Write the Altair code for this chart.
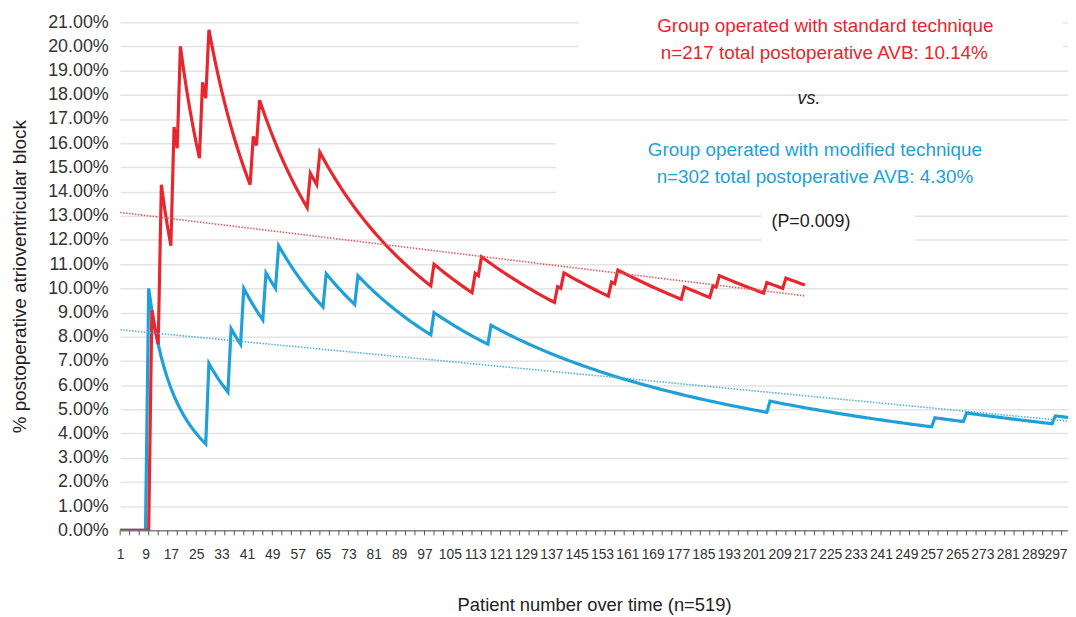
import altair as alt
import pandas as pd

FONT = "Liberation Sans"
RED = "#e8262d"
BLUE = "#1fa0d8"
RED_TREND = "#e05a5e"
BLUE_TREND = "#4fb2dc"

# ---- data ----
red_n = 217
blue_n = 302
# patient numbers at which a postoperative AVB occurred (each step up of the curve)
red_events = [11, 14, 18, 20, 27, 29, 43, 45, 61, 64, 100, 113, 115, 139, 141,
              156, 158, 179, 188, 190, 205, 211]
blue_events = [10, 29, 36, 40, 47, 51, 66, 76, 100, 118, 206, 258, 268, 296]

red_trend_patient = [1, 217]
red_trend_pct = [13.14, 9.69]
blue_trend_patient = [1, 302]
blue_trend_pct = [8.29, 4.49]

x_label_values = list(range(1, 298, 8))
x_tick_values = list(range(1, 301, 3))
y_values = list(range(0, 22))


def cumulative(n, events):
    ev = set(events)
    rows = []
    k = 0
    for p in range(1, n + 1):
        if p in ev:
            k += 1
        rows.append({"patient": p, "pct": 100.0 * k / p})
    return pd.DataFrame(rows)


red_df = cumulative(red_n, red_events)
blue_df = cumulative(blue_n, blue_events)
red_tr = pd.DataFrame({"patient": red_trend_patient, "pct": red_trend_pct})
blue_tr = pd.DataFrame({"patient": blue_trend_patient, "pct": blue_trend_pct})
ticks_df = pd.DataFrame({"patient": x_tick_values})
one = pd.DataFrame({"a": [0]})

x_scale = alt.Scale(domain=[1, 300], nice=False, zero=False)
y_scale = alt.Scale(domain=[0, 21], nice=False, zero=True)

x_axis = alt.Axis(
    values=x_label_values, title="Patient number over time (n=519)",
    grid=False, ticks=False, domain=True, domainColor="#555", domainWidth=1,
    labelFontSize=14, labelColor="#333", labelPadding=17, labelFont=FONT,
    labelOverlap=False, labelFlush=False,
    labelOffset={"condition": {"test": "datum.value === 297", "value": -3}, "value": 0},
    titleFont=FONT, titleFontSize=18.5, titleFontWeight="normal", titleColor="#222",
    titleX=477.5, titleY=75, titleBaseline="middle", titleAlign="center",
)
y_axis = alt.Axis(
    values=y_values, labelExpr="format(datum.value, '.2f') + '%'",
    grid=True, gridColor="#e3e3e3", gridWidth=1.5, ticks=False, domain=False,
    labelFontSize=18, labelColor="#333", labelPadding=12, labelFont=FONT,
    title="% postoperative atrioventricular block",
    titleFont=FONT, titleFontSize=19, titleFontWeight="normal", titleColor="#222",
    titleX=-101, titleY=256, titleAngle=-90, titleBaseline="middle", titleAlign="center",
)

X = alt.X("patient:Q", scale=x_scale, axis=x_axis)
Y = alt.Y("pct:Q", scale=y_scale, axis=y_axis)


def box(x1, x2, y1, y2):
    return alt.Chart(one).mark_rect(color="white").encode(
        x=alt.value(x1), x2=alt.value(x2), y=alt.value(y1), y2=alt.value(y2))


def label(txt, x, y, color, size=19, style="normal"):
    return alt.Chart(one).mark_text(
        text=txt, font=FONT, fontSize=size, color=color, fontStyle=style,
        align="center", baseline="middle").encode(x=alt.value(x), y=alt.value(y))


blue_line = alt.Chart(blue_df).mark_line(color=BLUE, strokeWidth=3.2, clip=True).encode(x=X, y=Y)
red_line = alt.Chart(red_df).mark_line(color=RED, strokeWidth=3.2, clip=True).encode(x=X, y=Y)
red_trend = alt.Chart(red_tr).mark_line(color=RED_TREND, strokeWidth=1.6, strokeDash=[1.5, 1.5], clip=True).encode(x=X, y=Y)
blue_trend = alt.Chart(blue_tr).mark_line(color=BLUE_TREND, strokeWidth=1.6, strokeDash=[1.5, 1.5], clip=True).encode(x=X, y=Y)
tick_marks = alt.Chart(ticks_df).mark_rule(color="#555", strokeWidth=1).encode(
    x=X, y=alt.value(512), y2=alt.value(517))

chart = alt.layer(
    box(462, 950, -12, 42),
    box(439, 955, 100, 185),
    box(646, 801, 185, 227),
    blue_line,
    red_line,
    red_trend,
    blue_trend,
    tick_marks,
    label("Group operated with standard technique", 710.5, 4, RED),
    label("n=217 total postoperative AVB: 10.14%", 709.5, 31, RED),
    label("vs.", 694, 77, "#222", size=18, style="italic"),
    label("Group operated with modified technique", 700, 129, BLUE),
    label("n=302 total postoperative AVB: 4.30%", 700, 156, BLUE),
    label("(P=0.009)", 696, 201.5, "#222", size=18),
).properties(
    width=955, height=512,
    padding={"left": 113, "top": 12, "right": 0, "bottom": 85},
    autosize=alt.AutoSizeParams(type="none"),
    background="white",
).configure_view(stroke=None)

chart.save("out.html", embed_options={"renderer": "svg", "actions": False})
